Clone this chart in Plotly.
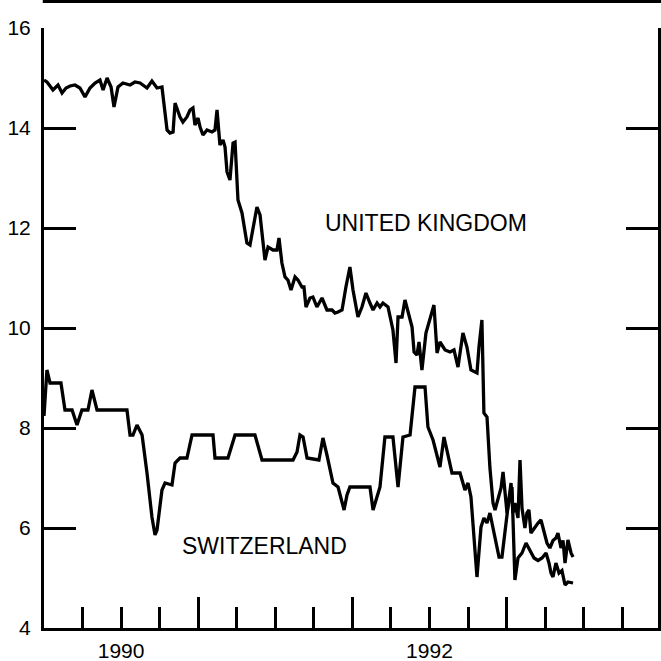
import plotly.graph_objects as go

# ---- data (decimal years, percent) ----
uk_year = [1990.000, 1990.019, 1990.039, 1990.058, 1990.091, 1990.117, 1990.143, 1990.169, 1990.201, 1990.233,
           1990.266, 1990.298, 1990.331, 1990.363, 1990.383, 1990.409, 1990.435, 1990.454, 1990.480, 1990.512,
           1990.558, 1990.590, 1990.623, 1990.668, 1990.700, 1990.733, 1990.765, 1990.798, 1990.817, 1990.837,
           1990.850, 1990.882, 1990.901, 1990.927, 1990.947, 1990.966, 1990.979, 1990.999, 1991.012, 1991.031,
           1991.057, 1991.089, 1991.109, 1991.122, 1991.141, 1991.161, 1991.174, 1991.187, 1991.206, 1991.226,
           1991.239, 1991.258, 1991.284, 1991.316, 1991.336, 1991.381, 1991.401, 1991.433, 1991.453, 1991.485,
           1991.511, 1991.524, 1991.543, 1991.563, 1991.582, 1991.602, 1991.628, 1991.647, 1991.673, 1991.686,
           1991.699, 1991.725, 1991.744, 1991.770, 1991.803, 1991.835, 1991.868, 1991.887, 1991.907, 1991.933,
           1991.958, 1991.984, 1992.004, 1992.036, 1992.062, 1992.088, 1992.114, 1992.134, 1992.160, 1992.179,
           1992.198, 1992.231, 1992.263, 1992.283, 1992.296, 1992.322, 1992.341, 1992.361, 1992.387, 1992.400,
           1992.419, 1992.432, 1992.451, 1992.477, 1992.503, 1992.529, 1992.549, 1992.568, 1992.601, 1992.633,
           1992.659, 1992.685, 1992.717, 1992.743, 1992.769, 1992.808, 1992.821, 1992.840, 1992.853, 1992.873,
           1992.892, 1992.912, 1992.925, 1992.944, 1992.964, 1992.977, 1992.990, 1993.003, 1993.016, 1993.029,
           1993.041, 1993.054, 1993.074, 1993.087, 1993.100, 1993.119, 1993.132, 1993.145, 1993.158, 1993.178,
           1993.204, 1993.223, 1993.243, 1993.262, 1993.281, 1993.301, 1993.320, 1993.333, 1993.353, 1993.366,
           1993.379, 1993.398, 1993.418, 1993.431]
uk_rate = [14.96, 14.92, 14.84, 14.76, 14.86, 14.70, 14.80, 14.84, 14.86, 14.80,
           14.62, 14.80, 14.90, 14.96, 14.76, 15.00, 14.82, 14.42, 14.82, 14.90,
           14.86, 14.92, 14.90, 14.80, 14.94, 14.80, 14.82, 13.96, 13.90, 13.92,
           14.50, 14.22, 14.12, 14.22, 14.36, 14.40, 14.06, 14.20, 14.02, 13.86,
           13.96, 13.92, 13.96, 14.36, 13.66, 13.76, 13.62, 13.12, 12.96, 13.70,
           13.72, 12.56, 12.30, 11.70, 11.66, 12.42, 12.26, 11.36, 11.62, 11.56,
           11.56, 11.80, 11.30, 11.02, 10.96, 10.76, 11.02, 10.96, 10.82, 10.82,
           10.42, 10.60, 10.62, 10.42, 10.60, 10.36, 10.36, 10.30, 10.32, 10.36,
           10.82, 11.22, 10.76, 10.22, 10.42, 10.70, 10.50, 10.36, 10.50, 10.42,
           10.50, 10.42, 9.96, 9.30, 10.22, 10.22, 10.56, 10.30, 10.02, 9.52,
           9.46, 9.72, 9.16, 9.90, 10.16, 10.46, 9.50, 9.72, 9.56, 9.52,
           9.56, 9.22, 9.90, 9.62, 9.16, 9.10, 9.62, 10.16, 8.30, 8.22,
           7.20, 6.50, 6.36, 6.60, 6.80, 7.12, 6.70, 6.30, 6.60, 6.90,
           6.30, 6.50, 6.20, 7.36, 6.40, 6.00, 6.30, 6.36, 5.90, 6.00,
           6.10, 6.16, 5.90, 5.70, 5.60, 5.75, 5.80, 5.90, 5.60, 5.75,
           5.30, 5.76, 5.50, 5.42]

ch_year = [1990.000, 1990.019, 1990.039, 1990.091, 1990.110, 1990.136, 1990.182, 1990.214, 1990.246, 1990.285,
           1990.311, 1990.344, 1990.538, 1990.558, 1990.577, 1990.603, 1990.636, 1990.668, 1990.700, 1990.720,
           1990.733, 1990.765, 1990.785, 1990.830, 1990.850, 1990.882, 1990.927, 1990.960, 1991.096, 1991.109,
           1991.193, 1991.239, 1991.368, 1991.414, 1991.615, 1991.641, 1991.660, 1991.680, 1991.706, 1991.783,
           1991.809, 1991.835, 1991.855, 1991.874, 1991.907, 1991.933, 1991.946, 1991.965, 1991.984, 1992.114,
           1992.134, 1992.179, 1992.211, 1992.263, 1992.296, 1992.328, 1992.374, 1992.406, 1992.471, 1992.490,
           1992.523, 1992.568, 1992.594, 1992.646, 1992.698, 1992.730, 1992.750, 1992.769, 1992.808, 1992.834,
           1992.853, 1992.873, 1992.892, 1992.912, 1992.931, 1992.951, 1992.970, 1992.990, 1993.009, 1993.035,
           1993.054, 1993.074, 1993.100, 1993.126, 1993.152, 1993.178, 1993.204, 1993.230, 1993.256, 1993.275,
           1993.288, 1993.301, 1993.320, 1993.340, 1993.359, 1993.379, 1993.398, 1993.431]
ch_rate = [8.24, 9.16, 8.90, 8.90, 8.90, 8.36, 8.36, 8.06, 8.36, 8.36,
           8.76, 8.36, 8.36, 7.86, 7.86, 8.06, 7.86, 7.10, 6.22, 5.86,
           5.96, 6.76, 6.90, 6.86, 7.30, 7.40, 7.40, 7.86, 7.86, 7.40,
           7.40, 7.86, 7.86, 7.36, 7.36, 7.52, 7.86, 7.82, 7.40, 7.36,
           7.80, 7.46, 7.20, 6.90, 6.82, 6.50, 6.36, 6.66, 6.82, 6.82,
           6.36, 6.82, 7.82, 7.82, 6.82, 7.82, 7.86, 8.82, 8.82, 8.02,
           7.76, 7.22, 7.82, 7.10, 7.10, 6.76, 6.90, 6.62, 5.02, 6.02,
           6.20, 6.10, 6.30, 6.00, 5.70, 5.42, 5.42, 5.90, 6.42, 6.82,
           4.96, 5.40, 5.50, 5.70, 5.55, 5.40, 5.35, 5.40, 5.50, 5.30,
           5.10, 5.02, 5.30, 5.10, 5.15, 4.86, 4.92, 4.90]

y_ticks = [4, 6, 8, 10, 12, 14, 16]
quarter_ticks = [1990.25, 1990.5, 1990.75, 1991.25, 1991.5, 1991.75, 1992.25,
                 1992.5, 1992.75, 1993.25, 1993.5, 1993.75]
quarter_text = ["", "1990", "", "", "", "", "", "1992", "", "", "", ""]
year_ticks = [1991, 1992, 1993]

FONT = "Liberation Sans, Arial, Helvetica, sans-serif"

fig = go.Figure()
fig.add_trace(go.Scatter(x=uk_year, y=uk_rate, mode="lines",
                         line=dict(color="black", width=3.3), name="United Kingdom"))
fig.add_trace(go.Scatter(x=ch_year, y=ch_rate, mode="lines",
                         line=dict(color="black", width=3.3), name="Switzerland"))

fig.update_layout(
    width=661, height=661,
    margin=dict(l=44, r=3, t=28, b=33, autoexpand=False),
    paper_bgcolor="white", plot_bgcolor="white",
    showlegend=False,
    font=dict(family=FONT, color="black"),
    xaxis=dict(range=[1990.0, 1993.982], showgrid=False, zeroline=False, automargin=False,
               showline=True, linecolor="black", linewidth=3, mirror=False,
               tickmode="array", tickvals=quarter_ticks, ticktext=quarter_text,
               ticks="inside", ticklen=21, tickwidth=3, tickcolor="black",
               tickfont=dict(size=21, family=FONT, color="black"),
               ticklabelstandoff=2,
               minor=dict(tickmode="array", tickvals=year_ticks, ticks="inside",
                          ticklen=31, tickwidth=3, tickcolor="black", showgrid=False)),
    yaxis=dict(range=[4, 16], showgrid=False, zeroline=False, automargin=False,
               showline=True, linecolor="black", linewidth=3, mirror="allticks",
               tickmode="array", tickvals=y_ticks,
               ticks="inside", ticklen=32, tickwidth=3, tickcolor="black",
               tickfont=dict(size=21, family=FONT, color="black"),
               ticklabelstandoff=6),
)

fig.add_annotation(x=1992.48, y=12.1, xref="x", yref="y", text="UNITED KINGDOM",
                   showarrow=False, font=dict(size=23, family=FONT, color="black"))
fig.add_annotation(x=1991.433, y=5.65, xref="x", yref="y", text="SWITZERLAND",
                   showarrow=False, font=dict(size=23, family=FONT, color="black"))

# bottom edge of the panel above, cut by the page
fig.add_shape(type="line", xref="paper", yref="paper", x0=-0.002, x1=1.01, y0=1.044, y1=1.044,
              line=dict(color="black", width=3))
fig.add_annotation(x=-0.049, y=1.048, xref="paper", yref="paper", yanchor="middle",
                   yshift=12, text="6", showarrow=False,
                   font=dict(size=21, family=FONT, color="black"))

fig.write_html("out.html", config={"displayModeBar": False},
               post_script="document.body.style.margin='0';document.body.style.overflow='hidden';")
